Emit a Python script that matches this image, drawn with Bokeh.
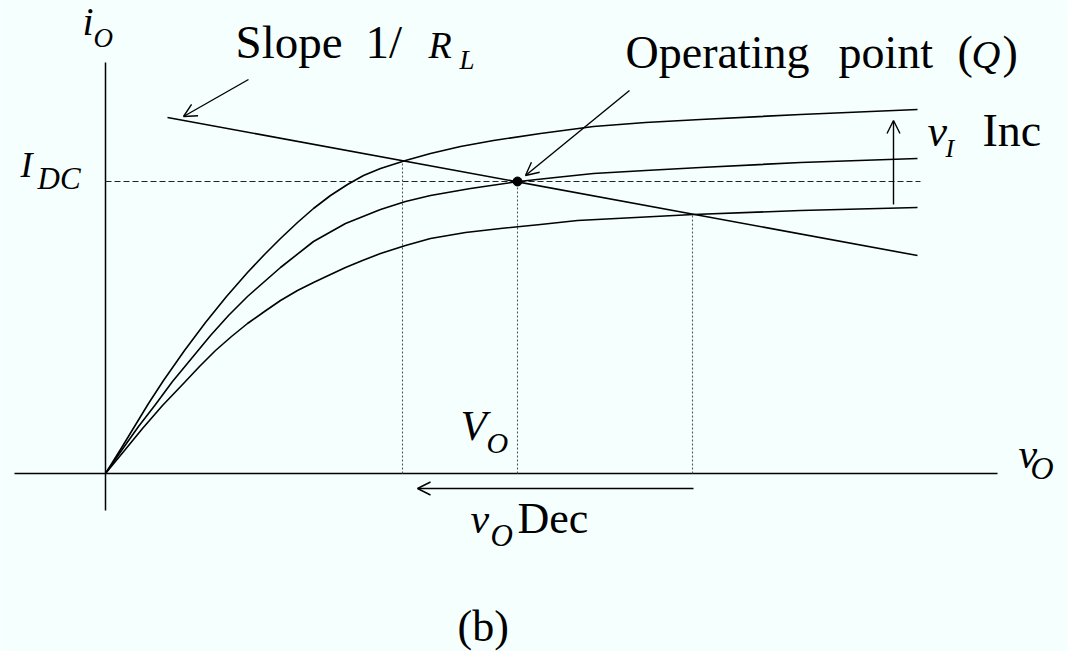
from bokeh.plotting import figure
from bokeh.models import Range1d, Arrow, OpenHead, ColumnDataSource
from bokeh.embed import file_html
from bokeh.resources import INLINE

# Output characteristics i_O(v_O) for three input levels v_I (arbitrary units)
vo_high = [0, 15, 29, 43, 58, 79, 100, 121, 142, 159, 175, 192, 208, 225, 242, 258, 275,
           300, 325, 355, 388, 435, 488, 540, 595, 695, 812]
io_high = [0, 24, 47, 70, 93, 123, 151, 177, 201, 219, 235, 251, 265, 278, 289, 298, 305,
           313, 320, 327, 333, 340, 347, 351, 354, 359, 364]

vo_mid = [0, 16, 33, 50, 67, 86, 105, 123, 142, 175, 208, 240, 275, 300, 325, 365, 413,
          450, 488, 540, 595, 695, 812]
io_mid = [0, 23, 47, 69, 92, 115, 138, 158, 177, 206, 232, 250, 264, 272, 278, 285, 292,
          296, 300, 303, 306, 311, 315]

vo_low = [0, 19, 37, 57, 78, 94, 110, 126, 142, 159, 175, 192, 208, 225, 240, 257, 275,
          300, 325, 360, 395, 435, 472, 530, 588, 695, 812]
io_low = [0, 23, 45, 68, 90, 107, 123, 137, 150, 162, 173, 183, 191, 199, 206, 213, 220,
          228, 235, 241, 245, 249, 253, 256, 259, 263, 266]

# Load line (slope 1/R_L) and operating point Q
load_vo = [62, 812]
load_io = [356, 218]
q_vo, q_io = 412, 292

# Projections onto the v_O axis: (v_O, i_O at the intersection)
proj_vo = [297, 412, 587]
proj_io = [313, 292, 259]

# Axes extents
xaxis_vo = [-91, 892]
yaxis_io = [-37, 411]

# Labels: position (left edge, baseline), text, font size in px, style
lab_x = [-23, -12, 130, 260, 323, 354, 520, 733, 852, 866, 897,
         822, 840, 877, -85, -68, 355, 381, 365, 385, 412, 913, 925, 352]
lab_y = [436, 425, 413, 413, 414, 403, 403, 403, 403, 403, 403,
         325, 315, 325, 294, 283, 31, 19, -62, -74, -62, 3, -7, -170]
lab_t = ["i", "O", "Slope", "1/", "R", "L", "Operating", "point", "(", "Q", ")",
         "v", "I", "Inc", "I", "DC", "V", "O", "v", "O", "Dec", "v", "O", "(b)"]
lab_s = [40, 27, 47, 47, 38, 27, 46, 46, 46, 40, 46,
         44, 26, 46, 36, 31, 43, 30, 42, 31, 44, 42, 32, 44]
lab_f = ["italic", "italic", "normal", "normal", "italic", "italic", "normal", "normal", "normal",
         "italic", "normal", "italic", "italic", "normal", "italic", "italic", "italic", "italic",
         "italic", "italic", "normal", "italic", "italic", "normal"]

BG = "#F5FFFE"
INK = "#000000"

p = figure(width=1068, height=651, frame_width=1068, frame_height=651,
           x_range=Range1d(-105, 963), y_range=Range1d(-178, 473),
           output_backend="svg", toolbar_location=None, min_border=0,
           x_axis_location=None, y_axis_location=None)
p.grid.visible = False
p.background_fill_color = BG
p.border_fill_color = BG
p.outline_line_color = None

# Coordinate axes
p.line(xaxis_vo, [0, 0], line_color=INK, line_width=1.5)
p.line([0, 0], yaxis_io, line_color=INK, line_width=1.5)

# I_DC level and projections of the intersections
p.line([0, 815], [q_io, q_io], line_color="#222222", line_width=1.1, line_dash="6 3")
for vx, iy in zip(proj_vo, proj_io):
    p.line([vx, vx], [0, iy], line_color="#555555", line_width=1.1, line_dash="2 2")

# Characteristic curves
for xs, ys in ((vo_high, io_high), (vo_mid, io_mid), (vo_low, io_low)):
    p.line(xs, ys, line_color=INK, line_width=1.6, line_join="round")

# Load line and Q
p.line(load_vo, load_io, line_color=INK, line_width=1.6)
p.scatter([q_vo], [q_io], size=9, marker="circle", fill_color=INK, line_color=INK)

# Annotation arrows
def arrow(x0, y0, x1, y1):
    p.add_layout(Arrow(end=OpenHead(size=13, line_width=1.4, line_color=INK),
                       x_start=x0, y_start=y0, x_end=x1, y_end=y1,
                       line_width=1.4, line_color=INK))

arrow(143, 394, 78, 357)      # slope 1/R_L
arrow(524, 383, 420, 298)     # operating point
arrow(788, 269, 788, 353)     # v_I increasing
arrow(588, -15, 312, -15)     # v_O decreasing

# The glyph places the alphabetic baseline a little low; lift each label
# by a fraction of its font size so the baseline lands on its coordinate.
src = ColumnDataSource(dict(
    x=lab_x, y=lab_y, text=lab_t, style=lab_f,
    size=[f"{s}px" for s in lab_s],
    dy=[-0.39 * s for s in lab_s],
))
p.text(x="x", y="y", text="text", source=src, text_font_size="size",
       text_font_style="style", text_font="Liberation Serif", y_offset="dy",
       text_align="left", text_baseline="alphabetic", text_color=INK)

open("out.html", "w").write(file_html(p, INLINE))
